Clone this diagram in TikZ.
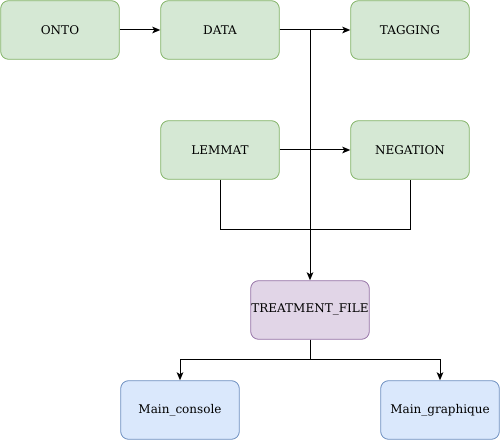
\documentclass[tikz,border=0pt]{standalone}
\usepackage{fontspec}
\setmainfont{DejaVu Serif}
\usetikzlibrary{arrows.meta}

\definecolor{greenfill}{HTML}{D5E8D4}
\definecolor{greenline}{HTML}{82B366}
\definecolor{purplefill}{HTML}{E1D5E7}
\definecolor{purpleline}{HTML}{9673A6}
\definecolor{bluefill}{HTML}{DAE8FC}
\definecolor{blueline}{HTML}{6C8EBF}

\tikzset{
  box/.style={draw, rounded corners=6pt, minimum width=89pt, minimum height=44pt,
    inner sep=0pt, font=\fontsize{9}{11}\selectfont, line width=0.6pt},
  greenbox/.style={box, fill=greenfill, draw=greenline},
  purplebox/.style={box, fill=purplefill, draw=purpleline},
  bluebox/.style={box, fill=bluefill, draw=blueline},
  link/.style={line width=0.75pt, -{Stealth[length=6pt,width=5pt,inset=1.5pt]}}
}

\begin{document}
\begin{tikzpicture}[x=0.75pt,y=-0.75pt]
    \useasboundingbox (0,0) rectangle (501,441);

    \node[greenbox] (onto) at (60,30) {ONTO};
    \node[greenbox] (data) at (220,30) {DATA};
    \node[greenbox] (tagging) at (410,30) {TAGGING};
    \node[greenbox] (lemmat) at (220,150) {LEMMAT};
    \node[greenbox] (negation) at (410,150) {NEGATION};
    \node[purplebox] (treatment) at (310,310) {TREATMENT\_FILE};
    \node[bluebox] (console) at (180,410) {Main\_console};
    \node[bluebox] (graphique) at (440,410) {Main\_graphique};

    \draw[link] (onto) -- (data);
    \draw[link] (data) -- (tagging);
    \draw[link] (data.east) -| (treatment.north);
    \draw[link] (lemmat) -- (negation);
    \draw[line width=0.75pt] (lemmat.south) -- ++(0,50) -| (negation.south);

    \draw[link] (treatment.south) -- ++(0,20) -| (console.north);
    \draw[link] (treatment.south) -- ++(0,20) -| (graphique.north);
\end{tikzpicture}
\end{document}
